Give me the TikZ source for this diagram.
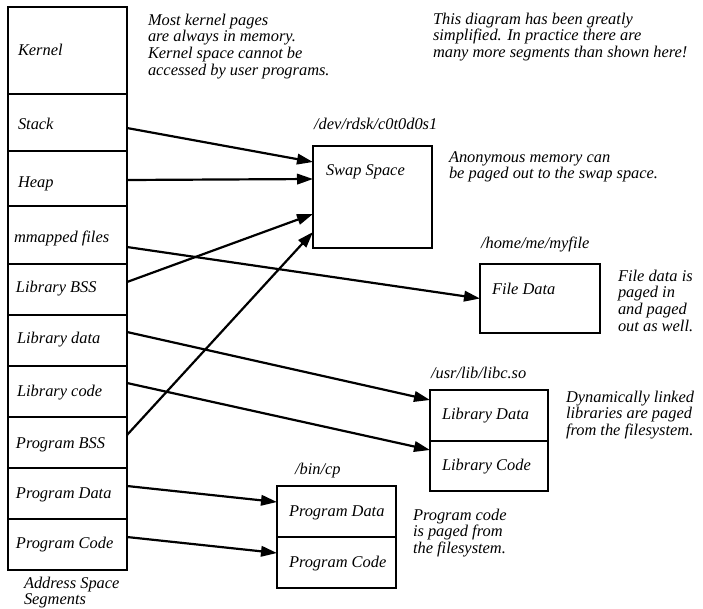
\documentclass[tikz,border=0pt]{standalone}
\usepackage{fontspec}
\setmainfont{Liberation Serif}
\usetikzlibrary{arrows.meta}
\begin{document}
\begin{tikzpicture}[x=1pt,y=-1pt,
  every node/.style={font=\fontsize{16.4}{16.8}\selectfont\itshape, inner sep=0pt, outer sep=0pt},
  cell/.style={draw, line width=1.3pt, minimum width=119pt},
  txt/.style={anchor=base west, align=left},
  arr/.style={line width=2.2pt, -{Triangle[length=16pt,width=10.5pt]}}]
\useasboundingbox (0,0) rectangle (703,608);
\fill[white] (0,0) rectangle (703,608);
% address space column
\node[cell, minimum height=87pt] (kernel) at (67.5,50.5) {};
\node[cell, minimum height=57pt] (stack) at (67.5,122.5) {};
\node[cell, minimum height=55pt] (heap) at (67.5,178.5) {};
\node[cell, minimum height=58pt] (mmap) at (67.5,235) {};
\node[cell, minimum height=51pt] (libbss) at (67.5,289.5) {};
\node[cell, minimum height=51pt] (libdata) at (67.5,340.5) {};
\node[cell, minimum height=51pt] (libcode) at (67.5,391.5) {};
\node[cell, minimum height=51pt] (progbss) at (67.5,442.5) {};
\node[cell, minimum height=51pt] (progdata) at (67.5,493.5) {};
\node[cell, minimum height=51pt] (progcode) at (67.5,544.5) {};
\node[txt] (kernelT) at (18,55) {Kernel};
\node[txt] (stackT) at (18,129) {Stack};
\node[txt] (heapT) at (18,187) {Heap};
\node[txt] (mmapT) at (14,242) {mmapped files};
\node[txt] (libbssT) at (16,292) {Library BSS};
\node[txt] (libdataT) at (17,343) {Library data};
\node[txt] (libcodeT) at (17,396) {Library code};
\node[txt] (progbssT) at (16,448) {Program BSS};
\node[txt] (progdataT) at (16,498) {Program Data};
\node[txt] (progcodeT) at (16,548) {Program Code};
\node[txt] (asT) at (24,604.8) {Address Space\\Segments};
% targets
\node[cell, minimum height=102pt] (swap) at (372.5,197) {};
\node[txt] (swapT) at (326,175) {Swap Space};
\node[txt] (swapP) at (314,129) {/dev/rdsk/c0t0d0s1};
\node[cell, minimum width=120pt, minimum height=69pt] (file) at (540,298.5) {};
\node[txt] (fileT) at (492,294) {File Data};
\node[txt] (fileP) at (481,248) {/home/me/myfile};
\node[cell, minimum width=118pt, minimum height=51pt] (libD) at (489,415.5) {};
\node[cell, minimum width=118pt, minimum height=50pt] (libC) at (489,466) {};
\node[txt] (libDT) at (442,419) {Library Data};
\node[txt] (libCT) at (442,470) {Library Code};
\node[txt] (libP) at (431,378) {/usr/lib/libc.so};
\node[cell, minimum height=51pt] (pD) at (336.5,511.5) {};
\node[cell, minimum height=51pt] (pC) at (336.5,562.5) {};
\node[txt] (pDT) at (289,516) {Program Data};
\node[txt] (pCT) at (289,567) {Program Code};
\node[txt] (pP) at (295,474) {/bin/cp};
% annotations (anchored at the baseline of the last line)
\node[txt] (n1) at (148,75.5) {Most kernel pages\\are always in memory.\\Kernel space cannot be\\accessed by user programs.};
\node[txt] (n2) at (433,57.6) {This diagram has been greatly\\simplified. In practice there are\\many more segments than shown here!};
\node[txt] (n3) at (449,178.8) {Anonymous memory can\\be paged out to the swap space.};
\node[txt] (n4) at (618,331.4) {File data is\\paged in\\and paged\\out as well.};
\node[txt] (n5) at (566,435.6) {Dynamically linked\\libraries are paged\\from the filesystem.};
\node[txt] (n6) at (413,553.6) {Program code\\is paged from\\the filesystem.};
% connectors
\draw[arr] ([yshift=-5.5pt]stack.east) -- ([yshift=35pt]swap.west);
\draw[arr] ([yshift=-1.5pt]heap.east) -- ([yshift=18pt]swap.west);
\draw[arr] ([yshift=-12pt]mmap.east) -- (file.west);
\draw[arr] ([yshift=7.5pt]libbss.east) -- ([yshift=-17pt]swap.west);
\draw[arr] ([yshift=8.5pt]libdata.east) -- ([yshift=15.5pt]libD.west);
\draw[arr] ([yshift=8.5pt]libcode.east) -- ([yshift=16pt]libC.west);
\draw[arr] ([yshift=7.5pt]progbss.east) -- ([yshift=-35pt]swap.west);
\draw[arr] ([yshift=7.5pt]progdata.east) -- ([yshift=9.5pt]pD.west);
\draw[arr] ([yshift=7.5pt]progcode.east) -- ([yshift=9.5pt]pC.west);
\end{tikzpicture}
\end{document}
